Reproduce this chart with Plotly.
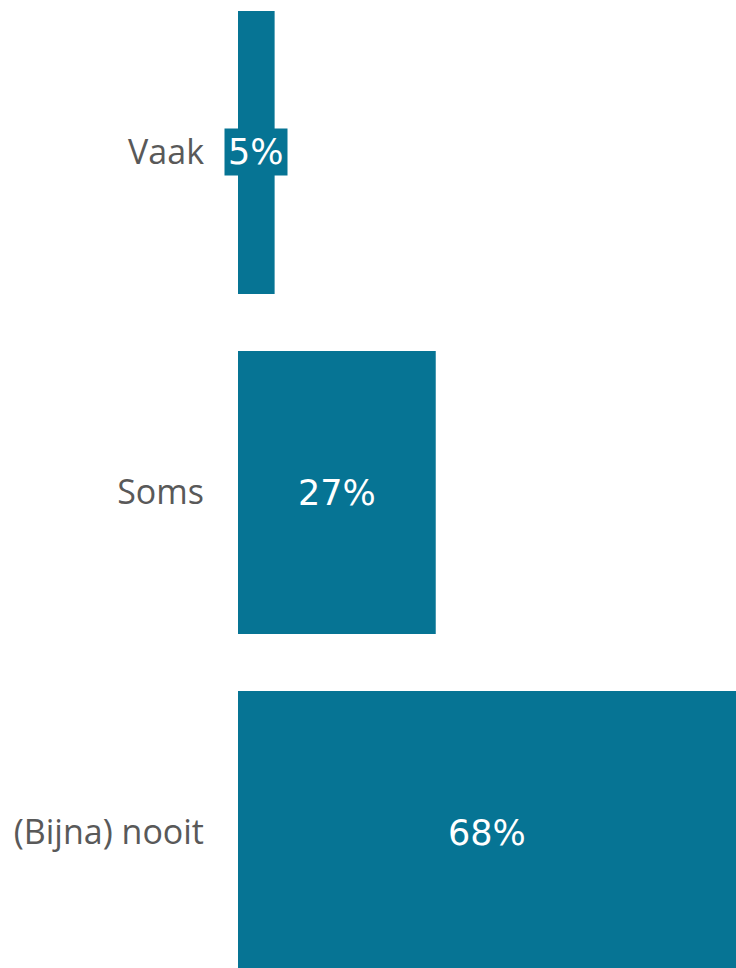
import plotly.graph_objects as go

# Frequency categories and their shares (%)
categories = ["Vaak", "Soms", "(Bijna) nooit"]
shares = [5, 27, 68]

bar_color = "#067494"
label_color = "#595959"
font_family = "'Open Sans', sans-serif"
value_font = "'DejaVu Sans', sans-serif"

fig = go.Figure(
    go.Bar(
        x=shares,
        y=categories,
        orientation="h",
        marker=dict(color=bar_color, line=dict(width=0)),
        hoverinfo="skip",
    )
)

# Value labels centred on each bar, boxed in the bar colour so narrow bars stay legible
for cat, val in zip(categories, shares):
    fig.add_annotation(
        x=val / 2,
        y=cat,
        text=f"{val}%",
        showarrow=False,
        font=dict(family=value_font, size=35, color="white"),
        bgcolor=bar_color,
        borderpad=3,
        xanchor="center",
        yanchor="middle",
    )

fig.update_layout(
    width=736,
    height=968,
    margin=dict(l=238, r=0, t=0, b=0),
    paper_bgcolor="white",
    plot_bgcolor="white",
    bargap=0.168,
    showlegend=False,
    xaxis=dict(
        range=[0, max(shares)],
        visible=False,
        showgrid=False,
        zeroline=False,
    ),
    yaxis=dict(
        range=[2.3985, -0.4485],
        showgrid=False,
        zeroline=False,
        showline=False,
        ticks="",
        ticklabelstandoff=33,
        tickfont=dict(family=font_family, size=34, color=label_color),
    ),
)

fig.write_html("out.html")
